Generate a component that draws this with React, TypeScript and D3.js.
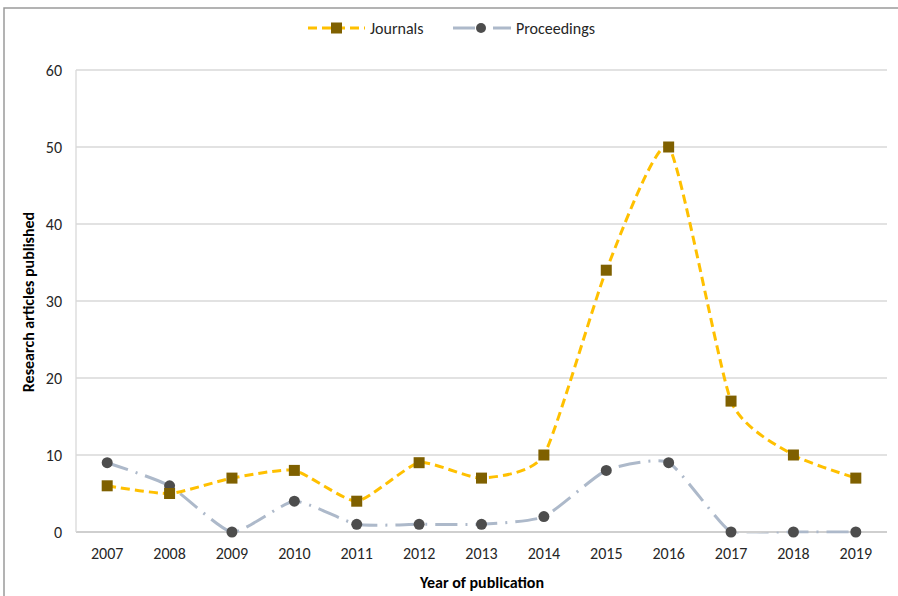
import * as d3 from "d3";

const years = ["2007", "2008", "2009", "2010", "2011", "2012", "2013", "2014", "2015", "2016", "2017", "2018", "2019"];
const journals = [6, 5, 7, 8, 4, 9, 7, 10, 34, 50, 17, 10, 7];
const proceedings = [9, 6, 0, 4, 1, 1, 1, 2, 8, 9, 0, 0, 0];
const yTicks = [0, 10, 20, 30, 40, 50, 60];

const W = 898;
const H = 596;
const margin = { top: 70, right: 11, bottom: 64, left: 76 };
const font = "Carlito, Calibri, 'Liberation Sans', Arial, sans-serif";

const App = () => {
  const x = d3
    .scalePoint<string>()
    .domain(years)
    .range([margin.left, W - margin.right])
    .padding(0.5);
  const y = d3.scaleLinear().domain([0, 60]).range([H - margin.bottom, margin.top]);

  const line = d3
    .line<number>()
    .x((_, i) => x(years[i]) as number)
    .y((d) => y(d))
    .curve(d3.curveCardinal.tension(0.45));

  const left = margin.left;
  const right = W - margin.right;
  const bottom = H - margin.bottom;

  return (
    <svg width={W} height={H} style={{ position: "absolute", left: 0, top: 0 }} fontFamily={font}>
      <defs>
        <clipPath id="plot">
          <rect x={left - 10} y={margin.top - 10} width={right - left + 20} height={bottom - margin.top + 11.5} />
        </clipPath>
      </defs>
      <rect width={W} height={H} fill="#fff" />
      {/* outer frame */}
      <path d={`M4,${H} V8 H${W}`} fill="none" stroke="#9a9a9a" strokeWidth={1.5} />

      {/* grid */}
      {yTicks.map((t) => (
        <line key={t} x1={left} x2={right} y1={y(t)} y2={y(t)} stroke={t === 0 ? "#bfbfbf" : "#d9d9d9"} strokeWidth={1.3} />
      ))}
      <line x1={left} x2={left} y1={y(60)} y2={bottom} stroke="#d9d9d9" strokeWidth={1.3} />

      {/* y tick labels */}
      {yTicks.map((t) => (
        <text key={t} x={left - 14} y={y(t)} dy="0.35em" textAnchor="end" fontSize={16} fill="#262626">
          {t}
        </text>
      ))}
      {/* x tick labels */}
      {years.map((yr) => (
        <text key={yr} x={x(yr)} y={bottom + 27} textAnchor="middle" fontSize={16} fill="#262626">
          {yr}
        </text>
      ))}

      {/* axis titles */}
      <text x={482} y={588} textAnchor="middle" fontSize={16} fontWeight="bold" fill="#000">
        Year of publication
      </text>
      <text transform={`translate(34,${(margin.top + bottom) / 2 + 1}) rotate(-90)`} textAnchor="middle" fontSize={16} fontWeight="bold" fill="#000">
        Research articles published
      </text>

      {/* series */}
      <g clipPath="url(#plot)">
        <path d={line(proceedings) ?? ""} fill="none" stroke="#adb9ca" strokeWidth={3} strokeDasharray="22 8 2 8" />
        <path d={line(journals) ?? ""} fill="none" stroke="#ffc000" strokeWidth={3} strokeDasharray="9 5" />
      </g>
      {proceedings.map((v, i) => (
        <circle key={i} cx={x(years[i])} cy={y(v)} r={5.5} fill="#4d4d4d" />
      ))}
      {journals.map((v, i) => (
        <rect key={i} x={(x(years[i]) as number) - 5.5} y={y(v) - 5.5} width={11} height={11} fill="#7f6000" />
      ))}

      {/* legend */}
      <g transform="translate(0,28)">
        <line x1={308} x2={365} y1={0} y2={0} stroke="#ffc000" strokeWidth={3} strokeDasharray="9 5" />
        <rect x={331} y={-5.5} width={11} height={11} fill="#7f6000" />
        <text x={370} dy="0.35em" fontSize={16} fill="#262626">Journals</text>
        <line x1={453} x2={511} y1={0} y2={0} stroke="#adb9ca" strokeWidth={3} strokeDasharray="22 8 2 8" />
        <circle cx={481} cy={0} r={5} fill="#4d4d4d" />
        <text x={516} dy="0.35em" fontSize={16} fill="#262626">Proceedings</text>
      </g>
    </svg>
  );
};

export default App;
